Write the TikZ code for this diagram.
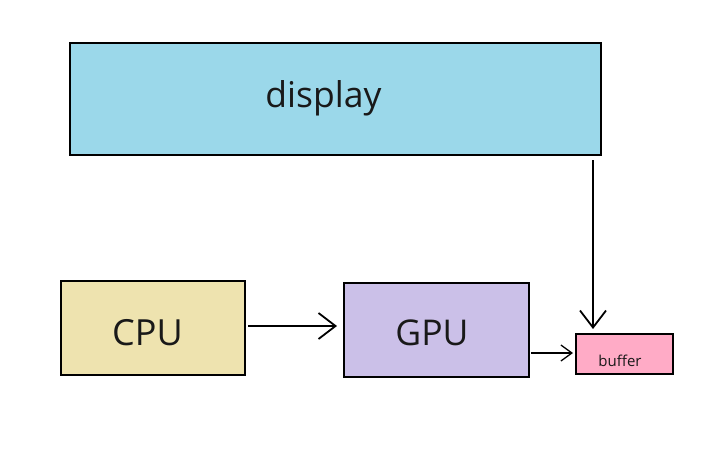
\documentclass[tikz,border=0pt]{standalone}
\usepackage{fontspec}
\setmainfont{Open Sans}
\usetikzlibrary{arrows.meta}
\definecolor{dispfill}{HTML}{9BD8EA}
\definecolor{cpufill}{HTML}{EEE3AF}
\definecolor{gpufill}{HTML}{CBC0E8}
\definecolor{buffill}{HTML}{FFABC6}
\tikzset{
  boxstyle/.style={draw=black, line width=1.8pt, inner sep=0pt, outer sep=0pt, anchor=north west},
  lbl/.style={anchor=base, inner sep=0pt, text=black!90},
  bigbarb/.style={line width=1.8pt, arrows={-Straight Barb[length=17pt 0 0, width=26pt 0 0, line width=1.8pt]}},
  smallbarb/.style={line width=1.3pt, arrows={-Straight Barb[length=11pt 0 0, width=16pt 0 0, line width=1.3pt]}},
}
\begin{document}
\begin{tikzpicture}[x=1pt,y=-1pt]
\useasboundingbox (0,0) rectangle (719,459);
\fill[white] (0,0) rectangle (719,459);
\node[boxstyle, fill=dispfill, minimum width=531pt, minimum height=112pt] (display) at (70,43) {};
\node[boxstyle, fill=cpufill, minimum width=184pt, minimum height=94pt] (cpu) at (61,281) {};
\node[boxstyle, fill=gpufill, minimum width=185pt, minimum height=94pt] (gpu) at (344,283) {};
\node[boxstyle, fill=buffill, minimum width=97pt, minimum height=40pt] (buffer) at (576,334) {};
\node[lbl, font=\fontsize{35.5}{38}\selectfont] (displaytxt) at (323.5,107) {display};
\node[lbl, font=\fontsize{36}{38}\selectfont] (cputxt) at (147.5,345) {CPU};
\node[lbl, font=\fontsize{35.5}{38}\selectfont] (gputxt) at (432,345) {GPU};
\node[lbl, font=\fontsize{15}{17}\selectfont] (buftxt) at (620,366) {buffer};
\coordinate (d1) at (593,160);
\coordinate (d2) at (593,329);
\coordinate (c1) at (248,326);
\coordinate (c2) at (337,326);
\coordinate (g1) at (531,353);
\coordinate (g2) at (573,353);
\draw[bigbarb] (d1) -- (d2);
\draw[bigbarb] (c1) -- (c2);
\draw[smallbarb] (g1) -- (g2);
\end{tikzpicture}
\end{document}
